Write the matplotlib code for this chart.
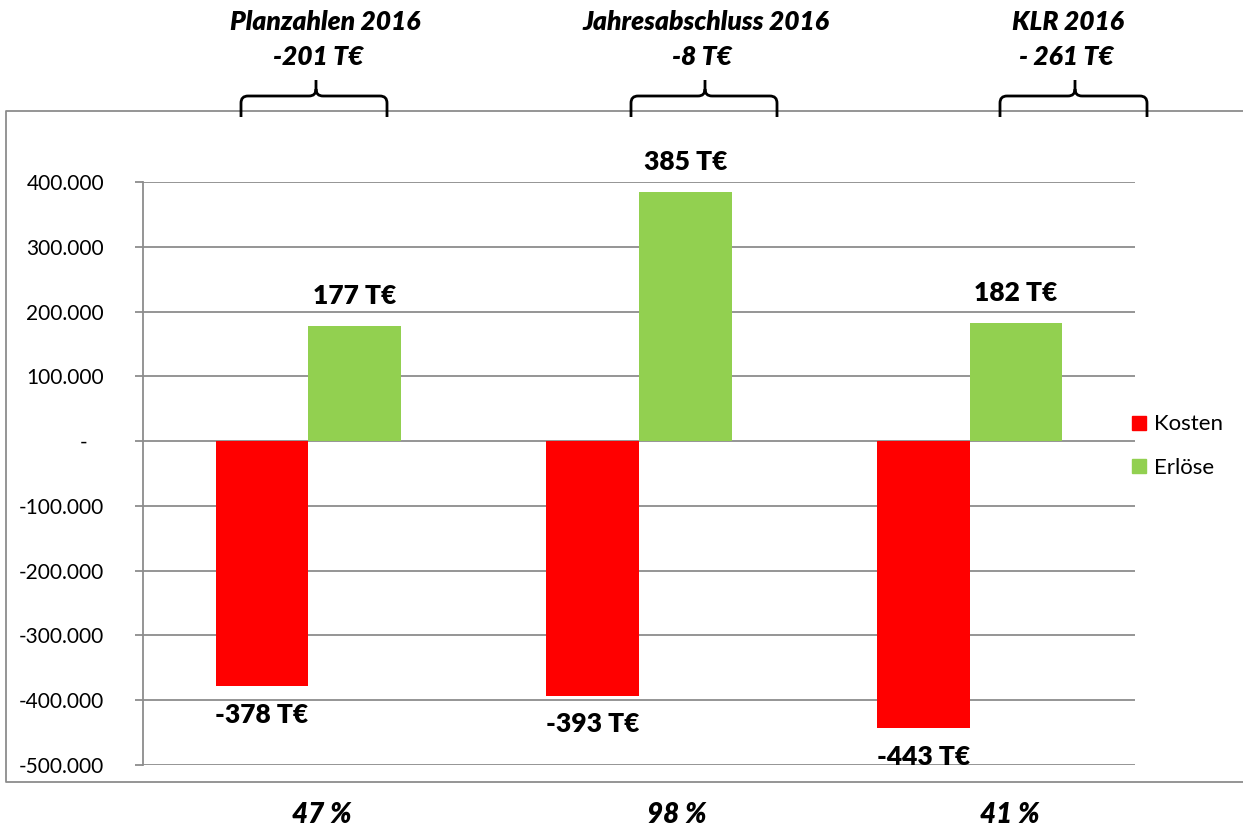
import matplotlib
matplotlib.use('Agg')
import matplotlib.pyplot as plt
from matplotlib.path import Path
from matplotlib.patches import PathPatch
from matplotlib.lines import Line2D
from matplotlib.ticker import FuncFormatter, MultipleLocator

plt.rcParams['font.family'] = ['Lato', 'DejaVu Sans']

# data
kategorien = ['Planzahlen 2016', 'Jahresabschluss 2016', 'KLR 2016']
ergebnis = ['-201 T€', '-8 T€', '- 261 T€']
kosten = [-378000, -393000, -443000]
erloese = [177000, 385000, 182000]
kosten_labels = ['-378 T€', '-393 T€', '-443 T€']
erloese_labels = ['177 T€', '385 T€', '182 T€']
quote = ['47 %', '98 %', '41 %']

rot = '#FF0000'
gruen = '#92D050'
grau = '#8C8C8C'

W, H = 1243, 830
fig = plt.figure(figsize=(W / 100, H / 100), dpi=100)
ax = fig.add_axes([143 / W, 1 - 765 / H, (1135 - 143) / W, (765 - 182) / H])

x = list(range(len(kategorien)))
bw = 0.28
ax.bar([i - bw / 2 for i in x], kosten, width=bw, color=rot, label='Kosten', zorder=3)
ax.bar([i + bw / 2 for i in x], erloese, width=bw, color=gruen, label='Erlöse', zorder=3)

ax.set_xlim(-0.5, 2.5)
ax.set_ylim(-500000, 400000)
ax.yaxis.set_major_locator(MultipleLocator(100000))


def fmt(v, pos):
    if abs(v) < 1:
        return '-   '
    return f'{v:,.0f}'.replace(',', '.')


ax.yaxis.set_major_formatter(FuncFormatter(fmt))
ax.grid(axis='y', color=grau, linewidth=1.3, zorder=0)
ax.set_xticks([])
for s in ['top', 'right', 'bottom']:
    ax.spines[s].set_visible(False)
ax.spines['left'].set_color(grau)
ax.spines['left'].set_linewidth(1.3)
ax.tick_params(axis='y', direction='out', length=6, width=1.3, color=grau,
               labelsize=15, pad=22)

# data labels
for i in x:
    ax.annotate(erloese_labels[i], (i + bw / 2, erloese[i]), xytext=(0, 13),
                textcoords='offset points', ha='center', va='bottom',
                fontsize=19, fontweight='heavy')
    ax.annotate(kosten_labels[i], (i - bw / 2, kosten[i]), xytext=(0, -12),
                textcoords='offset points', ha='center', va='top',
                fontsize=19, fontweight='heavy')

# legend
handles = [Line2D([], [], marker='s', linestyle='none', color=rot, markersize=10),
           Line2D([], [], marker='s', linestyle='none', color=gruen, markersize=10)]
fig.legend(handles, ['Kosten', 'Erlöse'], loc='center left',
           bbox_to_anchor=(1110 / W, 1 - 446 / H), frameon=False, fontsize=16,
           handlelength=0.8, handletextpad=0.3, labelspacing=1.05)

# overlay for frame, headers, braces and percentages
ov = fig.add_axes([0, 0, 1, 1], zorder=-1)
ov.set_xlim(0, W)
ov.set_ylim(H, 0)
ov.axis('off')
ov.plot([W + 5, 6, 6, W + 5], [111, 111, 782, 782], color=grau, linewidth=1.3)

ov2 = fig.add_axes([0, 0, 1, 1], zorder=5)
ov2.set_xlim(0, W)
ov2.set_ylim(H, 0)
ov2.axis('off')
ov2.patch.set_alpha(0)

header_x = [325, 706, 1068]
brace_l = [241, 631, 1000]
brace_r = [387, 777, 1147]
brace_tip = [316, 705, 1075]
ergebnis_x = [318, 702, 1066]
quote_x = [322, 677, 1010]


def brace(x0, x1, xt, y_bot=117, y_mid=96, y_top=80):
    r = 7
    verts = [(x0, y_bot), (x0, y_mid + r), (x0, y_mid), (x0 + r, y_mid),
             (xt - r, y_mid), (xt, y_mid), (xt, y_mid - r), (xt, y_top),
             (xt, y_mid - r), (xt, y_mid), (xt + r, y_mid),
             (x1 - r, y_mid), (x1, y_mid), (x1, y_mid + r), (x1, y_bot)]
    codes = [Path.MOVETO, Path.LINETO, Path.CURVE3, Path.CURVE3,
             Path.LINETO, Path.CURVE3, Path.CURVE3, Path.LINETO,
             Path.MOVETO, Path.CURVE3, Path.CURVE3,
             Path.LINETO, Path.CURVE3, Path.CURVE3, Path.LINETO]
    return PathPatch(Path(verts, codes), fill=False, lw=2, color='black',
                     capstyle='butt')


for i in x:
    ov2.text(header_x[i], 22, kategorien[i], ha='center', va='center',
             fontsize=19, fontweight='heavy', style='italic')
    ov2.text(ergebnis_x[i], 57, ergebnis[i], ha='center', va='center',
             fontsize=19, fontweight='heavy', style='italic')
    ov2.add_patch(brace(brace_l[i], brace_r[i], brace_tip[i]))
    ov2.text(quote_x[i], 815, quote[i], ha='center', va='center',
             fontsize=20, fontweight='heavy', style='italic')

fig.savefig('out.png', dpi=100)
